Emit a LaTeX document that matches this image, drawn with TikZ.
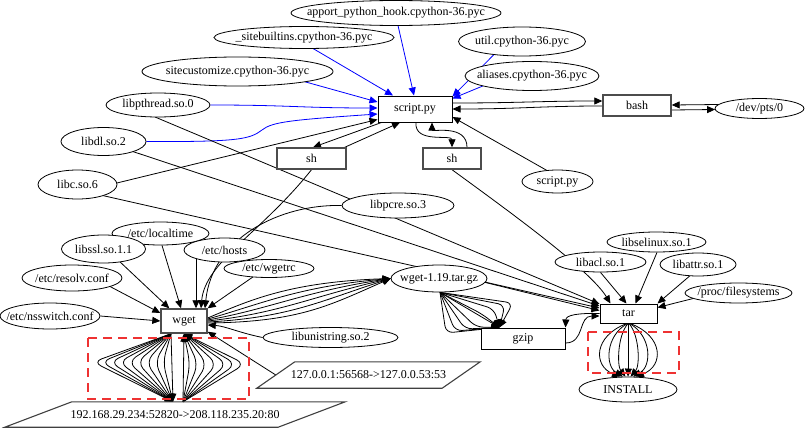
\documentclass[tikz,border=0pt]{standalone}
\usepackage{fontspec}
\setmainfont{Liberation Serif}
\usetikzlibrary{shapes.geometric,arrows.meta,calc}
\pgfdeclarelayer{edgelayer}
\pgfsetlayers{edgelayer,main}
\newcommand\mb[1]{\makebox[0pt]{#1}}
\begin{document}
\begin{tikzpicture}[x=1pt,y=-1pt,
  font=\fontsize{12}{14}\selectfont,
  el/.style={ellipse,draw,fill=white,inner sep=0pt,line width=0.8pt},
  bx/.style={rectangle,draw,fill=white,inner sep=0pt,line width=1pt},
  gbx/.style={bx,draw=black!70,line width=1.4pt},
  sock/.style={rectangle,inner sep=0pt},
  sockline/.style={draw=black!75,line width=1.1pt},
  edge/.style={line width=0.8pt,-{Triangle[length=8pt,width=7pt]}},
  bedge/.style={edge,blue},
  redbox/.style={draw={rgb,255:red,238;green,50;blue,50},line width=2pt,dash pattern=on 9pt off 6pt},
]
\useasboundingbox (0,0) rectangle (805,428);

% ---------- nodes ----------
\node[el,minimum width=210pt,minimum height=25pt] (apport) at (396,13) {\mb{apport\_python\_hook.cpython-36.pyc}};
\node[el,minimum width=180pt,minimum height=22pt] (sitebuiltins) at (304,37.5) {\mb{\_sitebuiltins.cpython-36.pyc}};
\node[el,minimum width=191pt,minimum height=29pt] (sitecust) at (237.5,71.5) {\mb{sitecustomize.cpython-36.pyc}};
\node[el,minimum width=104pt,minimum height=24pt] (libpthread) at (158,105) {\mb{libpthread.so.0}};
\node[el,minimum width=85pt,minimum height=28pt] (libdl) at (103.5,141.5) {\mb{libdl.so.2}};
\node[el,minimum width=79pt,minimum height=29pt] (libc) at (77.5,184.5) {\mb{libc.so.6}};
\node[el,minimum width=112pt,minimum height=25pt] (libpcre) at (398,205.5) {\mb{libpcre.so.3}};
\node[el,minimum width=127pt,minimum height=29pt] (util) at (522,41.5) {\mb{util.cpython-36.pyc}};
\node[el,minimum width=134pt,minimum height=29pt] (aliases) at (532,76) {\mb{aliases.cpython-36.pyc}};
\node[el,minimum width=89pt,minimum height=20pt] (devpts) at (759.5,108.5) {\mb{/dev/pts/0}};
\node[el,minimum width=71pt,minimum height=23pt] (scriptel) at (557.5,181.5) {\mb{script.py}};
\node[el,minimum width=97pt,minimum height=23pt] (localtime) at (160.5,233.5) {\mb{/etc/localtime}};
\node[el,minimum width=84pt,minimum height=28pt] (libssl) at (103.5,249) {\mb{libssl.so.1.1}};
\node[el,minimum width=81pt,minimum height=24pt] (hosts) at (224.5,250) {\mb{/etc/hosts}};
\node[el,minimum width=90pt,minimum height=18pt] (wgetrc) at (269,268.5) {\mb{/etc/wgetrc}};
\node[el,minimum width=100pt,minimum height=26pt] (resolv) at (72,278) {\mb{/etc/resolv.conf}};
\node[el,minimum width=100pt,minimum height=26pt] (nsswitch) at (50,316) {\mb{/etc/nsswitch.conf}};
\node[el,minimum width=135pt,minimum height=20pt] (libunistring) at (330.5,337.5) {\mb{libunistring.so.2}};
\node[el,minimum width=96pt,minimum height=27pt] (tarball) at (439,278.5) {\mb{wget-1.19.tar.gz}};
\node[el,minimum width=99pt,minimum height=20pt] (libselinux) at (656.5,242) {\mb{libselinux.so.1}};
\node[el,minimum width=91pt,minimum height=20pt] (libacl) at (600.5,262) {\mb{libacl.so.1}};
\node[el,minimum width=76pt,minimum height=23pt] (libattr) at (698,264.5) {\mb{libattr.so.1}};
\node[el,minimum width=107pt,minimum height=20pt] (procfs) at (738.5,293) {\mb{/proc/filesystems}};
\node[el,minimum width=98pt,minimum height=25pt] (install) at (628,389.5) {\mb{INSTALL}};

\node[bx,minimum width=74pt,minimum height=26pt] (script) at (415,109) {script.py};
\node[gbx,minimum width=68pt,minimum height=21pt] (bash) at (637,105.5) {bash};
\node[gbx,minimum width=69pt,minimum height=21pt] (sh1) at (311.5,158.5) {sh};
\node[gbx,minimum width=58pt,minimum height=21pt] (sh2) at (452,158.5) {sh};
\node[gbx,minimum width=46pt,minimum height=24pt] (wget) at (184,321) {wget};
\node[bx,minimum width=57pt,minimum height=19pt] (tar) at (628.5,313.5) {tar};
\node[bx,minimum width=84pt,minimum height=21pt] (gzip) at (523,338.5) {gzip};

\node[sock,minimum width=273pt,minimum height=25pt] (sock1) at (175,414.5) {192.168.29.234:52820->208.118.235.20:80};
\draw[sockline] ($(sock1.north west)+(33.5,0)$) -- ($(sock1.north east)+(33.5,0)$) -- ($(sock1.south east)+(-33.5,0)$) -- ($(sock1.south west)+(-33.5,0)$) -- cycle;
\node[sock,minimum width=185pt,minimum height=26pt] (sock2) at (368.5,375) {127.0.0.1:56568->127.0.0.53:53};
\draw[sockline] ($(sock2.north west)+(19,0)$) -- ($(sock2.north east)+(19,0)$) -- ($(sock2.south east)+(-19,0)$) -- ($(sock2.south west)+(-19,0)$) -- cycle;

\draw[redbox] (88,338) rectangle (249,399);
\draw[redbox] (588,332) rectangle (679,373);

% ---------- edges ----------
\begin{pgfonlayer}{edgelayer}
% blue inputs of script.py
\draw[bedge] ($(apport.center)+(2,12.5)$) -- ($(script.north)+(-1,0)$);
\draw[bedge] ($(sitebuiltins.center)+(9,11)$) -- ($(script.north)+(-22,0)$);
\draw[bedge] ($(sitecust.center)+(67.5,10.3)$) -- ($(script.west)+(0,-7)$);
\draw[bedge] (libpthread.east) .. controls (290,105) and (300,108) .. ($(script.west)+(0,-1)$);
\draw[bedge] (libdl.east) .. controls (240,142) and (250,139) .. (262,130) .. controls (272,122) and (290,120) .. ($(script.west)+(0,5)$);
\draw[bedge] ($(util.center)+(-28,13)$) -- ($(script.north east)+(0,1)$);
\draw[bedge] ($(aliases.center)+(-49,9.9)$) -- ($(script.north east)+(0,3)$);

% script.py
\draw[edge] ($(libc.center)+(39.4,-1.5)$) -- ($(script.south west)+(0,-3)$);
\draw[edge] ($(script.south west)+(4,0)$) -- ($(sh1.north)+(1.5,0)$);
\draw[edge] ($(sh1.north east)+(-2,0)$) -- ($(script.south)+(-15,0)$);
\draw[edge] ($(script.south)+(1,0)$) .. controls (414,144) and (452,134) .. (sh2.north);
\draw[edge] ($(sh2.north)+(15,0)$) .. controls (467,124) and (432,132) .. ($(script.south)+(17,0)$);
\draw[edge] ($(script.east)+(0,-6)$) .. controls (520,103) and (540,101) .. ($(bash.west)+(0,-4.5)$);
\draw[edge] ($(bash.west)+(0,0.5)$) .. controls (540,106) and (520,109) .. (script.east);
\draw[edge] ($(bash.east)+(0,4.5)$) -- ($(devpts.center)+(-44.4,1)$);
\draw[edge] ($(devpts.center)+(-40.8,-4)$) -- ($(bash.east)+(0,-0.5)$);
\draw[edge] ($(scriptel.center)+(-10.5,-11)$) -- ($(script.east)+(0,8)$);

% wget inputs
\draw[edge] ($(libssl.center)+(16.5,12.9)$) -- ($(wget.north west)+(9,0)$);
\draw[edge] ($(localtime.south)+(1.5,0)$) -- ($(wget.north)+(-3,0)$);
\draw[edge] ($(hosts.center)+(-28.5,8.5)$) -- ($(wget.north)+(12,0)$);
\draw[edge] (sh1.south) .. controls (262,232) and (205,262) .. ($(wget.north)+(17,0)$);
\draw[edge] (libpcre.west) .. controls (280,204) and (212,238) .. ($(wget.north)+(21,0)$);
\draw[edge] ($(wgetrc.center)+(-16,8.4)$) -- (wget.north east);
\draw[edge] ($(resolv.center)+(38,8.5)$) -- ($(wget.west)+(0,-8)$);
\draw[edge] (nsswitch.east) -- (wget.west);
\draw[edge] (libunistring.west) .. controls (240,333) and (225,326) .. ($(wget.east)+(0,4)$);
\draw[edge] (sock2.west) -- ($(wget.south east)+(0,-2)$);

% wget -> wget-1.19.tar.gz
\foreach \t in {0,0.2,0.4,0.6,0.8,1}
  \draw[edge] ($(wget.east)+(0,{-3+5*\t})$) .. controls ({250+50*\t},{300+22*\t}) and ({290+40*\t},{282+23*\t}) .. (tarball.west);

% wget <-> socket
\foreach \v in {93,101,110,119,128,137,146,155,163}
  \draw[edge,rounded corners=9pt] ($(wget.south)+(-13,0)$) -- (\v,362) -- ($(sock1.north)+(-2,0)$);
\draw[edge] ($(wget.south)+(-13,0)$) -- ($(sock1.north)+(-2,0)$);
\foreach \v in {245,236,227,217,207,198,190}
  \draw[edge,rounded corners=9pt] ($(sock1.north)+(8,0)$) -- (\v,364) -- (wget.south);
\draw[edge] ($(sock1.north)+(8,0)$) -- (wget.south);

% tarball -> gzip
\foreach \p in {(446,333),(455,331),(465,329),(476,327),(482,314),(494,309),(505,305),(513,303)}
  \draw[edge,rounded corners=7pt] ($(tarball.south)+(1,0)$) -- \p -- ($(gzip.north west)+(19,0)$);
\draw[edge] ($(tarball.south)+(1,0)$) -- ($(gzip.north west)+(19,0)$);

% tar inputs
\draw[edge] ($(libpthread.center)+(-3,12)$) -- ($(tar.north west)+(0,0.5)$);
\draw[edge] ($(libdl.center)+(29.5,10.1)$) -- ($(tar.west)+(0,-7.5)$);
\draw[edge] ($(libc.center)+(25.5,11.1)$) -- ($(tar.west)+(0,-5.5)$);
\draw[edge] ($(tarball.center)+(46,3.9)$) -- ($(tar.west)+(0,-3)$);
\draw[edge] (sh2.south) .. controls (510,212) and (590,270) .. ($(tar.north)+(-18,0)$);
\draw[edge] (libacl.south) -- ($(tar.north)+(-2,0)$);
\draw[edge] ($(libselinux.south)+(0.5,0)$) -- ($(tar.north)+(7,0)$);
\draw[edge] ($(libattr.center)+(-8,11.2)$) -- (tar.north east);
\draw[edge] ($(procfs.center)+(-45,5.4)$) -- ($(tar.east)+(0,-6)$);
\draw[edge] ($(gzip.east)+(0,4.5)$) .. controls (585,343) and (578,316) .. ($(tar.west)+(0,2.5)$);
\draw[edge] (tar.west) .. controls (578,313) and (566,315) .. (gzip.north east);

% tar -> INSTALL
\foreach \v in {602,611,620,628.5,637,646,655}
  \draw[edge] ($(tar.south)+({(\v-628.5)*0.06},0)$) .. controls ({628.5+(\v-628.5)/0.75},336) and ({628.5+(\v-628.5)/0.75},366) .. ($(install.north)+({(\v-628.5)*0.3},0)$);
\end{pgfonlayer}
\end{tikzpicture}
\end{document}
